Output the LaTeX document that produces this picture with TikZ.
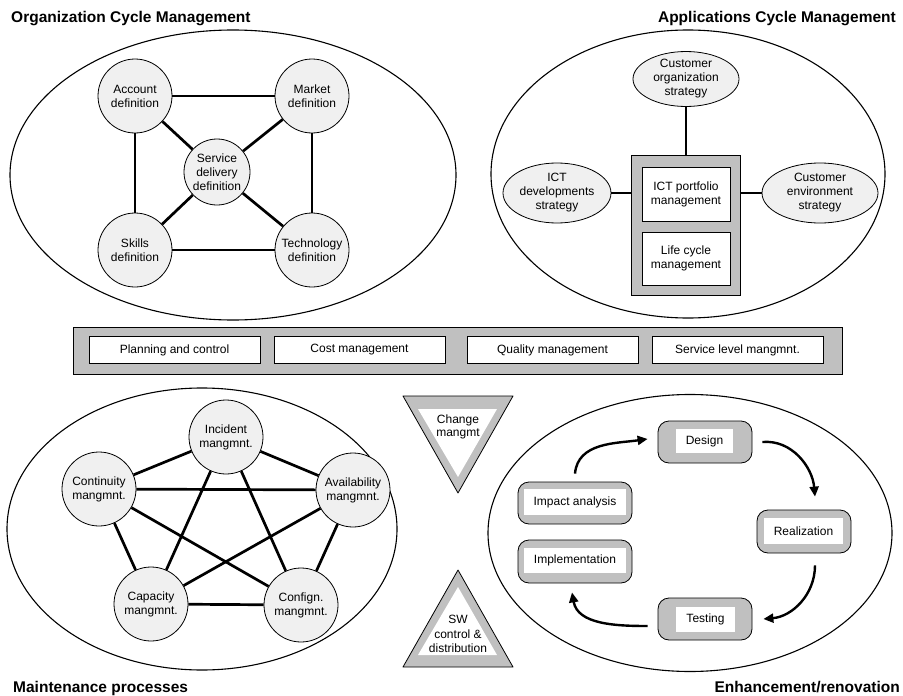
\documentclass[tikz,border=0pt]{standalone}
\usepackage{fontspec}
\setmainfont{Liberation Sans}
\usetikzlibrary{shapes.geometric,arrows.meta}
\definecolor{panelgray}{RGB}{192,192,192}
\definecolor{dotfill}{RGB}{240,240,240}

\begin{document}
\begin{tikzpicture}[x=1pt,y=-1pt,
  every node/.style={font=\fontsize{12}{14}\selectfont, align=center, inner sep=0pt},
  title/.style={font=\fontsize{15.5}{18}\selectfont\bfseries},
  region/.style={draw, ellipse, line width=1.1pt},
  proc/.style={draw, circle, fill=dotfill, line width=0.8pt, minimum size=74pt},
  strat/.style={draw, ellipse, fill=dotfill, line width=0.8pt},
  link/.style={line width=2.7pt},
  panel/.style={draw, fill=panelgray, line width=0.8pt},
  whitebox/.style={draw, fill=white, line width=0.8pt},
  stage/.style={draw, fill=panelgray, rounded corners=11pt, line width=0.8pt},
  stagelabel/.style={fill=white},
  flow/.style={line width=2.4pt, -{Triangle[length=10pt,width=9pt]}},
]
\useasboundingbox (0,0) rectangle (903,696);

% ---------- titles ----------
\node[title, anchor=base west] (t1) at (11,22) {Organization Cycle Management};
\node[title, anchor=base east] (t2) at (896,22) {Applications Cycle Management};
\node[title, anchor=base west] (t3) at (13,692) {Maintenance processes};
\node[title, anchor=base east] (t4) at (900,692) {Enhancement/renovation};

% ---------- organization cycle ----------
\node[region, minimum width=446pt, minimum height=290pt] (org) at (233,175) {};
\node[proc] (acc)  at (135,96)  {Account\\definition};
\node[proc] (mkt)  at (312,96)  {Market\\definition};
\node[proc, minimum size=66pt] (svc) at (217,172) {Service\\delivery\\definition};
\node[proc] (skl)  at (135,250) {Skills\\definition};
\node[proc] (tech) at (312,250) {Technology\\definition};
\draw[link] (acc) -- (mkt);
\draw[link] (skl) -- (tech);
\draw[link] (acc) -- (skl);
\draw[link] (mkt) -- (tech);
\draw[link] (acc) -- (svc);
\draw[link] (mkt) -- (svc);
\draw[link] (skl) -- (svc);
\draw[link] (tech) -- (svc);

% ---------- applications cycle ----------
\node[region, minimum width=394pt, minimum height=288pt] (app) at (688,174) {};
\node[strat, minimum width=106pt, minimum height=50pt] (custorg) at (686,79) {Customer\\organization\\strategy};
\node[strat, minimum width=108pt, minimum height=60pt] (ictdev) at (557,193) {ICT\\developments\\strategy};
\node[strat, minimum width=116pt, minimum height=60pt] (custenv) at (820,193) {Customer\\environment\\strategy};
\node[panel, minimum width=109pt, minimum height=140pt] (port) at (686,225) {};
\node[whitebox, minimum width=88pt, minimum height=54pt] (ictport) at (686,194) {ICT portfolio\\management};
\node[whitebox, minimum width=88pt, minimum height=53pt] (lcm) at (686,258.5) {Life cycle\\management};
\draw[link] (custorg) -- (port);
\draw[link] (ictdev.east) -- (ictdev.east -| port.west);
\draw[link] (custenv.west) -- (custenv.west -| port.east);

% ---------- management bar ----------
\node[panel, minimum width=769pt, minimum height=47pt] (bar) at (457.5,350.5) {};
\node[whitebox, minimum width=171pt, minimum height=27pt] (plan) at (174.5,350) {Planning and control};
\node[whitebox, minimum width=171pt, minimum height=27pt] (cost) at (359.5,350) {Cost management};
\node[whitebox, minimum width=171pt, minimum height=27pt] (qual) at (552.5,350) {Quality management};
\node[whitebox, minimum width=171pt, minimum height=27pt] (slm) at (737.5,350) {Service level mangmnt.};

% ---------- maintenance processes ----------
\node[region, minimum width=390pt, minimum height=282pt] (maint) at (202,529) {};
\node[proc] (inc)   at (226,437) {Incident\\mangmnt.};
\node[proc] (cont)  at (99,489)  {Continuity\\mangmnt.};
\node[proc] (avail) at (353,490) {Availability\\mangmnt.};
\node[proc] (cap)   at (151,604) {Capacity\\mangmnt.};
\node[proc] (conf)  at (301,605) {Confign.\\mangmnt.};
\draw[link] (inc) -- (cont);
\draw[link] (inc) -- (avail);
\draw[link] (inc) -- (cap);
\draw[link] (inc) -- (conf);
\draw[link] (cont) -- (avail);
\draw[link] (cont) -- (cap);
\draw[link] (cont) -- (conf);
\draw[link] (avail) -- (cap);
\draw[link] (avail) -- (conf);
\draw[link] (cap) -- (conf);

% ---------- central triangles ----------
\filldraw[fill=panelgray, line width=0.8pt, line join=round] (403,396) -- (513,396) -- (458,493) -- cycle;
\fill[white] (418,409) -- (497,409) -- (458,477) -- cycle;
\node[font=\fontsize{12}{13}\selectfont] (chg) at (458,426.5) {Change\\mangmt};
\filldraw[fill=panelgray, line width=0.8pt, line join=round] (458,570) -- (513,667) -- (403,667) -- cycle;
\fill[white] (458,587) -- (497,655) -- (418,655) -- cycle;
\node[font=\fontsize{12}{14.5}\selectfont] (swc) at (458,634) {SW\\control \&\\distribution};

% ---------- enhancement / renovation ----------
\node[region, minimum width=404pt, minimum height=277pt] (enh) at (690,533) {};
\node[stage, minimum width=94pt, minimum height=42pt] (design) at (705,442) {};
\node[stagelabel, minimum width=57pt, minimum height=24pt] (designl) at (704.5,441) {Design};
\node[stage, minimum width=94pt, minimum height=43pt] (real) at (804,531.5) {};
\node[stagelabel, minimum width=79pt, minimum height=26pt] (reall) at (803.5,531) {Realization};
\node[stage, minimum width=94pt, minimum height=42pt] (test) at (705,619) {};
\node[stagelabel, minimum width=59pt, minimum height=25pt] (testl) at (705.5,619.5) {Testing};
\node[stage, minimum width=114pt, minimum height=42pt] (impact) at (575,503) {};
\node[stagelabel, minimum width=102pt, minimum height=26pt] (impactl) at (575,502) {Impact analysis};
\node[stage, minimum width=114pt, minimum height=43pt] (impl) at (575,561.5) {};
\node[stagelabel, minimum width=102pt, minimum height=25pt] (impll) at (575,560.5) {Implementation};

\draw[flow] ([yshift=8pt]impact.north) to[out=85,in=188] ([xshift=-10pt,yshift=3pt]design.west);
\draw[flow] ([xshift=10pt]design.east) to[out=5,in=95] ([xshift=11pt,yshift=13pt]real.north);
\draw[flow] ([xshift=11pt,yshift=-12pt]real.south) to[out=-90,in=5] ([xshift=11pt]test.east);
\draw[flow] ([xshift=-10pt,yshift=-7pt]test.west) to[out=180,in=-80] ([xshift=-3pt,yshift=-9pt]impl.south);
\end{tikzpicture}
\end{document}
